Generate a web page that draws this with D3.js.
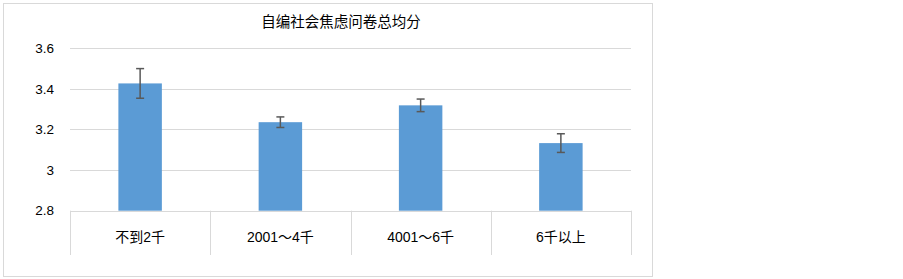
<!DOCTYPE html>
<html><head><meta charset="utf-8">
<script src="https://cdn.jsdelivr.net/npm/d3@7"></script>
<style>body{margin:0;background:#fff;}svg{display:block;}</style>
</head><body>
<script>
const categories = ["不到2千", "2001～4千", "4001～6千", "6千以上"];
const means = [3.427, 3.236, 3.319, 3.133];
const errors = [0.073, 0.026, 0.031, 0.046];
const yTicks = [2.8, 3.0, 3.2, 3.4, 3.6];
const yTickLabels = ["2.8", "3", "3.2", "3.4", "3.6"];
const title = "自编社会焦虑问卷总均分";

(function () {
const W = 903, H = 279;
const svg = d3.select("body").append("svg").attr("width", W).attr("height", H);
const font = "'Liberation Sans', Arial, 'Noto Sans CJK SC', sans-serif";

// frame
svg.append("rect").attr("x", 3.5).attr("y", 3.5).attr("width", 649).attr("height", 273)
  .attr("fill", "#fff").attr("stroke", "#d9d9d9").attr("stroke-width", 1);

const pLeft = 70, pRight = 631, pTop = 48.3, pBottom = 210.7, sepBottom = 255;
const y = d3.scaleLinear().domain([2.8, 3.6]).range([pBottom, pTop]);
const x = d3.scaleBand().domain(categories).range([pLeft, pRight]).padding(0);

// gridlines
svg.append("g").selectAll("line").data(yTicks.slice(1)).join("line")
  .attr("x1", pLeft).attr("x2", pRight)
  .attr("y1", d => Math.round(y(d)) + 0.5).attr("y2", d => Math.round(y(d)) + 0.5)
  .attr("stroke", "#d9d9d9").attr("stroke-width", 1);

// y labels
svg.append("g").selectAll("text").data(yTicks).join("text")
  .attr("x", 54).attr("y", d => y(d)).attr("dy", "0.35em")
  .attr("text-anchor", "end").attr("font-family", font).attr("font-size", 13.5)
  .attr("fill", "#000").text((d, i) => yTickLabels[i]);

// bars
const bw = x.bandwidth() * 0.31;
svg.append("g").selectAll("rect").data(categories).join("rect")
  .attr("x", d => x(d) + (x.bandwidth() - bw) / 2)
  .attr("width", bw)
  .attr("y", (d, i) => y(means[i]))
  .attr("height", (d, i) => y(2.8) - y(means[i]))
  .attr("fill", "#5b9bd5");

// axis line and separators
svg.append("line").attr("x1", pLeft).attr("x2", pRight)
  .attr("y1", Math.round(pBottom) + 0.5).attr("y2", Math.round(pBottom) + 0.5)
  .attr("stroke", "#d9d9d9").attr("stroke-width", 1);
const bounds = categories.map(c => x(c)).concat([x(categories[categories.length - 1]) + x.bandwidth()]);
svg.append("g").selectAll("line").data(bounds).join("line")
  .attr("x1", d => Math.round(d) + 0.5).attr("x2", d => Math.round(d) + 0.5)
  .attr("y1", pBottom).attr("y2", sepBottom)
  .attr("stroke", "#d9d9d9").attr("stroke-width", 1);

// error bars
const eg = svg.append("g").attr("stroke", "#595959").attr("stroke-width", 1.5);
categories.forEach((c, i) => {
  const cx = x(c) + x.bandwidth() / 2;
  const y1 = y(means[i] + errors[i]), y2 = y(means[i] - errors[i]);
  eg.append("line").attr("x1", cx).attr("x2", cx).attr("y1", y1).attr("y2", y2);
  eg.append("line").attr("x1", cx - 4).attr("x2", cx + 4).attr("y1", y1).attr("y2", y1);
  eg.append("line").attr("x1", cx - 4).attr("x2", cx + 4).attr("y1", y2).attr("y2", y2);
});

// category labels
svg.append("g").selectAll("text").data(categories).join("text")
  .attr("x", d => x(d) + x.bandwidth() / 2).attr("y", 237).attr("dy", "0.35em")
  .attr("text-anchor", "middle").attr("font-family", font).attr("font-size", 14)
  .attr("fill", "#000").text(d => d);

// title
svg.append("text").attr("x", 341).attr("y", 22).attr("dy", "0.35em")
  .attr("text-anchor", "middle").attr("font-family", "'Noto Sans CJK SC', sans-serif")
  .attr("font-size", 14.5).attr("fill", "#000").text(title);
})();
</script>
</body></html>
